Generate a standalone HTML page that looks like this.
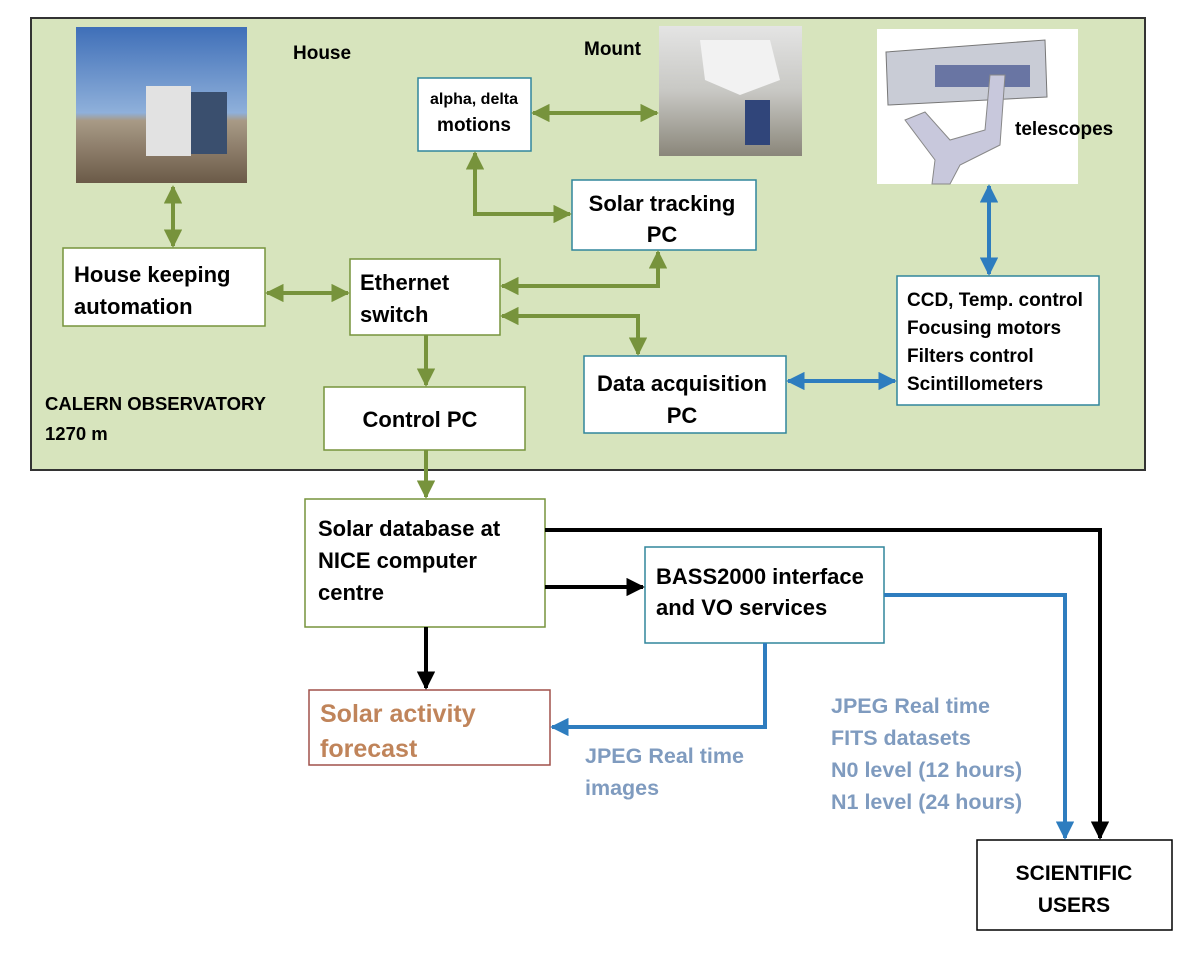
<!DOCTYPE html>
<html><head><meta charset="utf-8"><style>
body{margin:0;background:#fff;}
svg text{font-family:"Liberation Sans",sans-serif;font-weight:bold;}
</style></head><body>
<svg width="1196" height="951" viewBox="0 0 1196 951" xmlns="http://www.w3.org/2000/svg">
<defs>
<marker id="g" viewBox="0 0 10 10" refX="9" refY="5" markerWidth="4.6" markerHeight="4.6" orient="auto-start-reverse"><path d="M0,0L10,5L0,10z" fill="#77933c"/></marker>
<marker id="b" viewBox="0 0 10 10" refX="9" refY="5" markerWidth="4.6" markerHeight="4.6" orient="auto-start-reverse"><path d="M0,0L10,5L0,10z" fill="#2e7dbf"/></marker>
<marker id="k" viewBox="0 0 10 10" refX="9" refY="5" markerWidth="4.6" markerHeight="4.6" orient="auto-start-reverse"><path d="M0,0L10,5L0,10z" fill="#000"/></marker>
<linearGradient id="sky" x1="0" y1="0" x2="0" y2="1"><stop offset="0" stop-color="#3f6fb8"/><stop offset="0.55" stop-color="#8fb0da"/><stop offset="0.6" stop-color="#a89a86"/><stop offset="1" stop-color="#6b5a48"/></linearGradient>
<linearGradient id="mt" x1="0" y1="0" x2="0" y2="1"><stop offset="0" stop-color="#e4e4e4"/><stop offset="0.5" stop-color="#c8c8c4"/><stop offset="1" stop-color="#8a867a"/></linearGradient>
</defs>
<rect x="31" y="18" width="1114" height="452" fill="#d7e4bd" stroke="#333" stroke-width="2"/>
<rect x="76" y="27" width="171" height="156" fill="url(#sky)"/>
<rect x="146" y="86" width="45" height="70" fill="#e2e2e2"/><rect x="191" y="92" width="36" height="62" fill="#3a4f6e"/>
<rect x="659" y="26" width="143" height="130" fill="url(#mt)"/>
<path d="M700,40 L770,40 L780,80 L740,95 L705,80z" fill="#f2f2f2"/>
<rect x="745" y="100" width="25" height="45" fill="#30457a"/>
<rect x="877" y="29" width="201" height="155" fill="#fff"/>
<path d="M886,52 L1045,40 L1047,97 L888,105z" fill="#c9ccd6" stroke="#777"/>
<rect x="935" y="65" width="95" height="22" fill="#2a3a80" opacity="0.6"/>
<path d="M905,120 L935,160 L932,184 L950,184 L960,165 L1000,145 L1005,75 L990,75 L985,130 L950,140 L925,112z" fill="#c8c8dc" stroke="#888"/>
<text x="293" y="59" font-size="19">House</text>
<text x="584" y="55" font-size="19">Mount</text>
<text x="1015" y="135" font-size="19">telescopes</text>
<g stroke-width="1.5" fill="#fff">
<rect x="418" y="78" width="113" height="73" stroke="#31859c"/>
<rect x="572" y="180" width="184" height="70" stroke="#31859c"/>
<rect x="63" y="248" width="202" height="78" stroke="#77933c"/>
<rect x="350" y="259" width="150" height="76" stroke="#77933c"/>
<rect x="324" y="387" width="201" height="63" stroke="#77933c"/>
<rect x="584" y="356" width="202" height="77" stroke="#31859c"/>
<rect x="897" y="276" width="202" height="129" stroke="#31859c"/>
<rect x="305" y="499" width="240" height="128" stroke="#77933c"/>
<rect x="645" y="547" width="239" height="96" stroke="#31859c"/>
<rect x="309" y="690" width="241" height="75" stroke="#a0504a"/>
<rect x="977" y="840" width="195" height="90" stroke="#000"/>
</g>
<g fill="#000">
<text x="474" y="104" text-anchor="middle" font-size="16">alpha, delta</text>
<text x="474" y="131" text-anchor="middle" font-size="19">motions</text>
<text x="662" y="211" text-anchor="middle" font-size="22">Solar tracking</text>
<text x="662" y="242" text-anchor="middle" font-size="22">PC</text>
<text x="74" y="282" font-size="22">House keeping</text>
<text x="74" y="314" font-size="22">automation</text>
<text x="360" y="290" font-size="22">Ethernet</text>
<text x="360" y="322" font-size="22">switch</text>
<text x="420" y="427" text-anchor="middle" font-size="22">Control PC</text>
<text x="682" y="391" text-anchor="middle" font-size="22">Data acquisition</text>
<text x="682" y="423" text-anchor="middle" font-size="22">PC</text>
<text x="907" y="306" font-size="19">CCD, Temp. control</text>
<text x="907" y="334" font-size="19">Focusing motors</text>
<text x="907" y="362" font-size="19">Filters control</text>
<text x="907" y="390" font-size="19">Scintillometers</text>
<text x="45" y="410" font-size="18.5">CALERN OBSERVATORY</text>
<text x="45" y="440" font-size="18.5">1270 m</text>
<text x="318" y="536" font-size="22">Solar database at</text>
<text x="318" y="568" font-size="22">NICE computer</text>
<text x="318" y="600" font-size="22">centre</text>
<text x="656" y="584" font-size="22">BASS2000 interface</text>
<text x="656" y="615" font-size="22">and VO services</text>
<text x="320" y="722" font-size="25" fill="#c0845a">Solar activity</text>
<text x="320" y="757" font-size="25" fill="#c0845a">forecast</text>
<text x="1074" y="880" text-anchor="middle" font-size="21">SCIENTIFIC</text>
<text x="1074" y="912" text-anchor="middle" font-size="21">USERS</text>
<g fill="#7f9bbf" font-size="21.5">
<text x="585" y="763">JPEG Real time</text>
<text x="585" y="795">images</text>
<text x="831" y="713">JPEG Real time</text>
<text x="831" y="745">FITS datasets</text>
<text x="831" y="777">N0 level (12 hours)</text>
<text x="831" y="809">N1 level (24 hours)</text>
</g>
</g>
<g stroke="#77933c" stroke-width="4" fill="none" marker-start="url(#g)" marker-end="url(#g)">
<path d="M173,187 V246"/>
<path d="M267,293 H348"/>
<path d="M502,286 H658 V252"/>
<path d="M502,316 H638 V354"/>
<path d="M533,113 H657"/>
<path d="M475,153 V214 H570"/>
</g>
<g stroke="#77933c" stroke-width="4" fill="none" marker-end="url(#g)">
<path d="M426,335 V385"/>
<path d="M426,450 V497"/>
</g>
<g stroke="#2e7dbf" stroke-width="4" fill="none" marker-start="url(#b)" marker-end="url(#b)">
<path d="M989,186 V274"/>
<path d="M788,381 H895"/>
</g>
<g stroke="#2e7dbf" stroke-width="4" fill="none" marker-end="url(#b)">
<path d="M765,643 V727 H552"/>
<path d="M884,595 H1065 V838"/>
</g>
<g stroke="#000" stroke-width="4" fill="none" marker-end="url(#k)">
<path d="M426,627 V688"/>
<path d="M545,587 H643"/>
<path d="M545,530 H1100 V838"/>
</g>
</svg>
</body></html>
